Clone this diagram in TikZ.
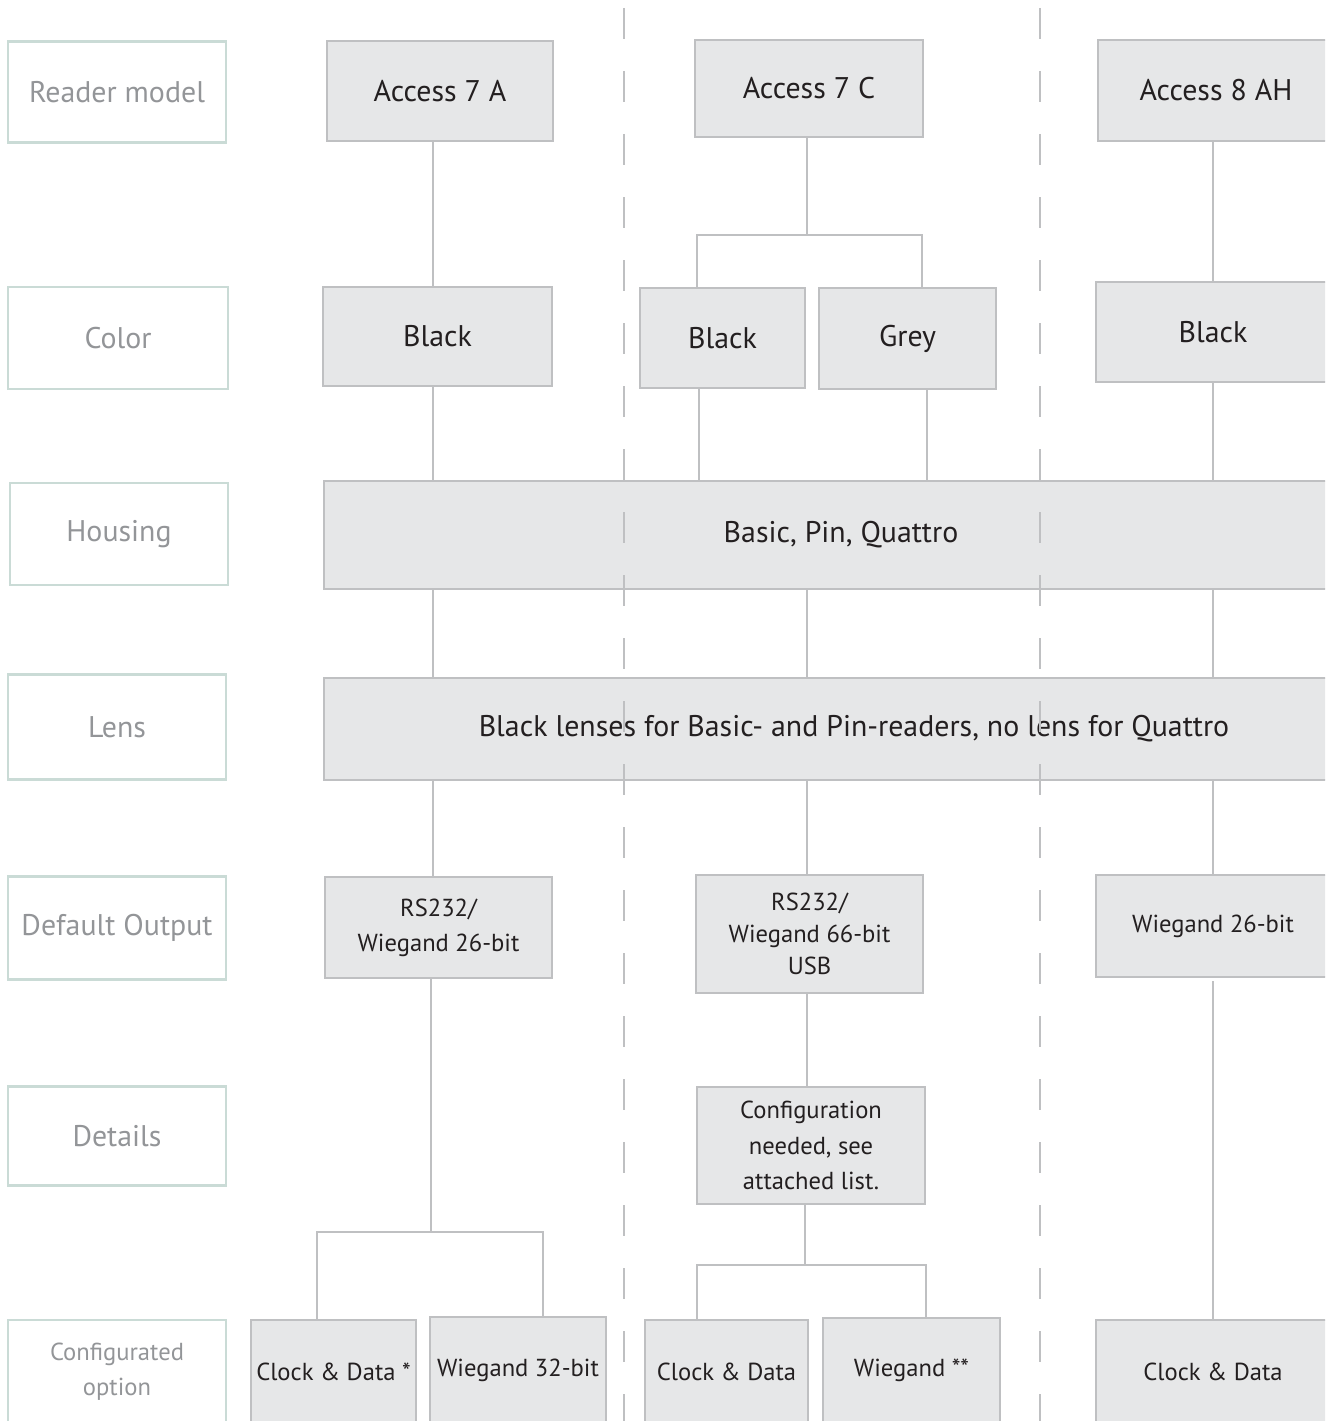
\documentclass[tikz,border=0pt]{standalone}
\usepackage{fontspec}
\setmainfont{PT Sans}
\definecolor{boxfill}{HTML}{E6E7E8}
\definecolor{boxline}{HTML}{BFC0C2}
\definecolor{tagline}{HTML}{CADBD6}
\definecolor{tagtext}{HTML}{939598}
\definecolor{ink}{HTML}{231F20}

\begin{document}
\begin{tikzpicture}[x=0.2mm,y=-0.2mm,
    gbox/.style={draw=boxline, fill=boxfill, line width=1.3pt, inner sep=0pt,
        align=center, text=ink, font=\fontsize{17}{20}\selectfont},
    small/.style={font=\fontsize{14}{20}\selectfont},
    tag/.style={draw=tagline, line width=1.3pt, inner sep=0pt, minimum width=43.6mm,
        align=center, text=tagtext, font=\fontsize{17}{20}\selectfont},
    conn/.style={draw=boxline, line width=1.1pt},
    sep/.style={draw=boxline, line width=1.1pt, dash pattern=on 6.2mm off 6.4mm}]
    \useasboundingbox (0,0) rectangle (1325,1421);
    \clip (0,0) rectangle (1325,1421);

    % Row labels
    \node[tag, minimum height=20.2mm] (rm)   at (117,92)   {Reader model};
    \node[tag, minimum height=20.4mm, minimum width=44mm] (col) at (118,338) {Color};
    \node[tag, minimum height=20.4mm] (hou)  at (119,534)  {Housing};
    \node[tag, minimum height=21mm]   (len)  at (117,727)  {Lens};
    \node[tag, minimum height=20.6mm] (dout) at (117,928)  {Default Output};
    \node[tag, minimum height=19.8mm] (det)  at (117,1136) {Details};
    \node[tag, small, minimum height=20.6mm] (cfg) at (117,1371.5) {Configurated\\option};

    % Reader models
    \node[gbox, minimum width=45.2mm, minimum height=20mm]   (a7a)  at (440,91)    {Access 7 A};
    \node[gbox, minimum width=45.6mm, minimum height=19.4mm] (a7c)  at (809,88.5)  {Access 7 C};
    \node[gbox, minimum width=47.2mm, minimum height=20.2mm] (a8ah) at (1216,90.5) {Access 8 AH};

    % Colors
    \node[gbox, minimum width=45.8mm, minimum height=19.8mm] (blk1) at (437.5,336.5) {Black};
    \node[gbox, minimum width=33mm,   minimum height=20mm]   (blk2) at (722.5,338)   {Black};
    \node[gbox, minimum width=35.4mm, minimum height=20.2mm] (grey) at (907.5,338.5) {Grey};
    \node[gbox, minimum width=46.8mm, minimum height=20mm]   (blk3) at (1213,332)    {Black};

    % Housing and lens
    \node[gbox, minimum width=206.8mm, minimum height=21.6mm] (hous) at (841,535) {Basic, Pin, Quattro};
    \node[gbox, minimum width=212mm,   minimum height=20.4mm] (lens) at (854,729)
        {Black lenses for Basic- and Pin-readers, no lens for Quattro};

    % Default outputs
    \node[gbox, small, minimum width=45.4mm, minimum height=20.2mm] (o1) at (438.5,927.5) {RS232/\\Wiegand 26-bit};
    \node[gbox, small, minimum width=45.4mm, minimum height=23.6mm, font=\fontsize{14}{18}\selectfont] (o2) at (809.5,934)
        {RS232/\\Wiegand 66-bit\\USB};
    \node[gbox, small, minimum width=46.8mm, minimum height=20.4mm] (o3) at (1213,926) {Wiegand 26-bit};

    % Details
    \node[gbox, small, minimum width=45.6mm, minimum height=23.4mm] (conf) at (811,1145.5)
        {Configuration\\needed, see\\attached list.};

    % Configurated options
    \node[gbox, small, minimum width=33mm,   minimum height=20.6mm] (cd1) at (333.5,1371.5) {Clock \& Data *};
    \node[gbox, small, minimum width=35.2mm, minimum height=21.2mm] (w32) at (518,1370)     {Wiegand 32-bit};
    \node[gbox, small, minimum width=32.6mm, minimum height=20.6mm] (cd2) at (726.5,1371.5) {Clock \& Data};
    \node[gbox, small, minimum width=35.4mm, minimum height=21mm]   (w2)  at (911.5,1370.5) {Wiegand **};
    \node[gbox, small, minimum width=46.8mm, minimum height=20.6mm] (cd3) at (1213,1371.5)  {Clock \& Data};

    % Column trunks
    \coordinate (c1) at (433,0);
    \coordinate (c2) at (807,0);
    \coordinate (c3) at (1213,0);
    \coordinate (j1) at (431,1232);
    \coordinate (j2) at (807,235);
    \coordinate (j3) at (805,1265);

    % Access 7 A
    \draw[conn] (a7a.south -| c1) -- (blk1.north -| c1);
    \draw[conn] (blk1.south -| c1) -- (hous.north -| c1);
    \draw[conn] (hous.south -| c1) -- (lens.north -| c1);
    \draw[conn] (lens.south -| c1) -- (o1.north -| c1);
    \draw[conn] (o1.south -| j1) -- (j1);
    \draw[conn] ([xshift=-3.3mm]cd1.north) |- (j1) -| ([xshift=5mm]w32.north);

    % Access 7 C
    \draw[conn] (a7c.south -| c2) -- (j2);
    \draw[conn] ([xshift=-5.1mm]blk2.north) |- (j2) -| ([xshift=2.9mm]grey.north);
    \draw[conn] ([xshift=-4.7mm]blk2.south) -- ([xshift=-4.7mm]blk2.south |- hous.north);
    \draw[conn] ([xshift=3.9mm]grey.south) -- ([xshift=3.9mm]grey.south |- hous.north);
    \draw[conn] (hous.south -| c2) -- (lens.north -| c2);
    \draw[conn] (lens.south -| c2) -- (o2.north -| c2);
    \draw[conn] (o2.south -| c2) -- (conf.north -| c2);
    \draw[conn] (conf.south -| j3) -- (j3);
    \draw[conn] ([xshift=-5.9mm]cd2.north) |- (j3) -| ([xshift=2.9mm]w2.north);

    % Access 8 AH
    \draw[conn] (a8ah.south -| c3) -- (blk3.north -| c3);
    \draw[conn] (blk3.south -| c3) -- (hous.north -| c3);
    \draw[conn] (hous.south -| c3) -- (lens.north -| c3);
    \draw[conn] (lens.south -| c3) -- (o3.north -| c3);
    \draw[conn] ([yshift=-0.6mm]o3.south -| c3) -- (cd3.north -| c3);

    % Separators
    \coordinate (s1t) at (624,8);
    \coordinate (s1b) at (624,1421);
    \coordinate (s2t) at (1040,8);
    \coordinate (s2b) at (1040,1421);
    \draw[sep] (s1t) -- (s1b);
    \draw[sep] (s2t) -- (s2b);
\end{tikzpicture}
\end{document}
